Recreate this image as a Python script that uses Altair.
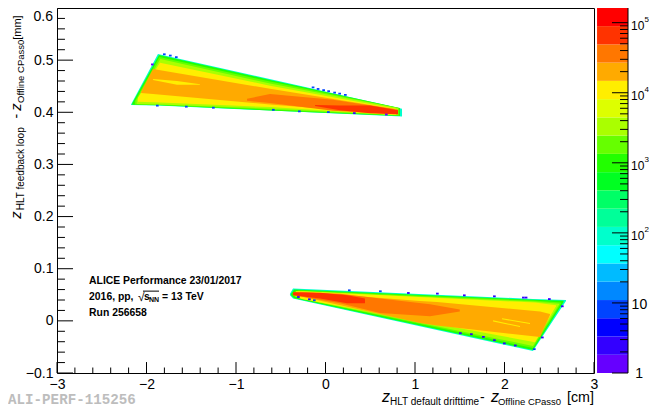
import altair as alt
import pandas as pd

FONT = "Liberation Sans"

# ---- colour contour edges and palette (bottom to top of the palette bar)
band_edges = [1, 1.82, 3.32, 6.05, 11.0, 20.1, 36.6, 66.7, 121.6, 221.6, 403.7, 735.6,
              1340, 2442, 4449, 8107, 14770, 26910, 49030, 89340, 162000]
palette = ["#6600ff", "#3300ff", "#0000ff", "#0044ff", "#0088ff", "#00bbff", "#00ffff",
           "#00ffcc", "#00ff99", "#00ff66", "#00ff22", "#22ff00", "#66ff00", "#aaff00",
           "#ddff00", "#ffee00", "#ffaa00", "#ff7700", "#ff3300", "#ff0000"]

# ---- axis ticks
x_major = [-3, -2, -1, 0, 1, 2, 3]
x_minor = [-2.8, -2.6, -2.4, -2.2, -1.8, -1.6, -1.4, -1.2, -0.8, -0.6, -0.4, -0.2,
           0.2, 0.4, 0.6, 0.8, 1.2, 1.4, 1.6, 1.8, 2.2, 2.4, 2.6, 2.8]
y_major = [-0.1, 0, 0.1, 0.2, 0.3, 0.4, 0.5, 0.6]
y_minor = [-0.08, -0.06, -0.04, -0.02, 0.02, 0.04, 0.06, 0.08, 0.12, 0.14, 0.16, 0.18,
           0.22, 0.24, 0.26, 0.28, 0.32, 0.34, 0.36, 0.38, 0.42, 0.44, 0.46, 0.48,
           0.52, 0.54, 0.56, 0.58]
cbar_major = [1, 10, 100, 1000, 10000, 100000]
cbar_minor = [2, 3, 4, 5, 6, 7, 8, 9, 20, 30, 40, 50, 60, 70, 80, 90,
              200, 300, 400, 500, 600, 700, 800, 900,
              2000, 3000, 4000, 5000, 6000, 7000, 8000, 9000,
              20000, 30000, 40000, 50000, 60000, 70000, 80000, 90000]

# ---- upper wedge: contour regions (z_default, upper and lower z_feedback edge, counts)
up_teal = ([-2.173, -1.872, 0.855], [0.415, 0.512, 0.407], [0.414, 0.413, 0.392], 90)
up_green = ([-2.160, -1.860, -0.620, 0.832], [0.417, 0.510, 0.462, 0.408], [0.4145, 0.4135, 0.4035, 0.393], 1000)
up_mid = ([-2.130, -1.855, -0.620, 0.820], [0.421, 0.506, 0.459, 0.408], [0.415, 0.414, 0.405, 0.394], 1800)
up_lime = ([-2.110, -1.845, -0.620, 0.810], [0.424, 0.502, 0.455, 0.408], [0.416, 0.415, 0.407, 0.395], 3000)
up_yellow = ([-2.095, -1.849, -0.620, 0.788], [0.428, 0.495, 0.451, 0.407], [0.420, 0.419, 0.410, 0.395], 11000)
up_orange = ([-2.061, -1.927, -0.620, 0.765], [0.439, 0.483, 0.445, 0.407], [0.437, 0.435, 0.415, 0.396], 20000)
up_stripe = ([-1.927, -1.659, -1.402], [0.464, 0.460, 0.454], [0.462, 0.453, 0.453], 11000)
up_dark = ([-0.877, -0.620, 0.084, 0.810], [0.426, 0.435, 0.424, 0.405], [0.422, 0.418, 0.403, 0.396], 35000)
up_red = ([-0.117, 0.162, 0.497, 0.810], [0.414, 0.413, 0.413, 0.404], [0.412, 0.404, 0.398, 0.396], 60000)

# ---- lower wedge
lo_teal = ([-0.397, -0.363, 2.318, 2.687], [0.052, 0.062, 0.042, 0.040], [0.049, 0.043, -0.058, 0.038], 90)
lo_green = ([-0.385, -0.350, 2.318, 2.660], [0.052, 0.060, 0.0405, 0.0385], [0.049, 0.0435, -0.056, 0.036], 1000)
lo_mid = ([-0.360, -0.300, 2.318, 2.630], [0.054, 0.058, 0.039, 0.035], [0.048, 0.0435, -0.052, 0.033], 1800)
lo_lime = ([-0.341, -0.285, 2.318, 2.609], [0.056, 0.0565, 0.037, 0.033], [0.047, 0.043, -0.048, 0.031], 3000)
lo_yellow = ([-0.330, -0.263, 2.341, 2.575], [0.057, 0.057, 0.035, 0.030], [0.048, 0.042, -0.041, 0.028], 11000)
lo_orange = ([-0.285, 1.056, 1.246, 2.397, 2.508], [0.056, 0.038, 0.036, 0.018, 0.013],
             [0.047, -0.004, -0.009, -0.031, 0.011], 20000)
lo_stripe1 = ([1.972, 2.285], [0.005, -0.004], [0.003, -0.006], 11000)
lo_stripe2 = ([1.872, 2.173], [0.001, -0.010], [-0.001, -0.012], 11000)
lo_dark = ([-0.352, 0.162, 0.609, 1.168, 1.500], [0.055, 0.052, 0.043, 0.032, 0.022],
           [0.049, 0.034, 0.015, 0.009, 0.018], 35000)
lo_red = ([-0.363, -0.061, 0.240, 0.441], [0.055, 0.054, 0.049, 0.043], [0.049, 0.043, 0.034, 0.034], 60000)

regions = [up_teal, up_green, up_mid, up_lime, up_yellow, up_orange, up_stripe, up_dark, up_red,
           lo_teal, lo_green, lo_mid, lo_lime, lo_yellow, lo_orange, lo_stripe1, lo_stripe2, lo_dark, lo_red]

# ---- isolated low-count bins along the wedge edges
cell_x = [-1.816, -1.749, -1.682, -1.950, -1.894, -1.570, -1.268, -0.598, -0.307, 0.017, 0.307, 0.665,
          -0.154, -0.098, -0.036, 0.020, 0.087, 0.143, 0.207,
          0.251, 0.598, 0.911, 1.235, 1.536, 1.872, 2.196, 2.226, 2.486, 2.631, 2.408,
          2.318, 2.106, 1.983, 1.872, 1.749, 1.615, 1.492, -0.318, -0.195, -0.140]
cell_y = [0.5095, 0.507, 0.504, 0.490, 0.411, 0.409, 0.407, 0.403, 0.400, 0.3986, 0.3966, 0.394,
          0.446, 0.443, 0.4407, 0.4387, 0.436, 0.434, 0.4316,
          0.0568, 0.055, 0.0517, 0.0505, 0.0472, 0.0453, 0.0429, 0.0429, 0.040, 0.0262, -0.0336,
          -0.056, -0.049, -0.045, -0.0388, -0.0325, -0.0273, -0.0254, 0.044, 0.0396, 0.0377]
cell_n = [8, 8, 8, 1.5, 8, 8, 8, 8, 8, 8, 3, 1.5,
          8, 8, 8, 8, 8, 8, 8,
          8, 8, 3, 3, 3, 3, 3, 3, 3, 3, 3,
          8, 3, 3, 3, 3, 3, 3, 3, 3, 8]

x_scale = alt.Scale(domain=[-3, 3], nice=False, zero=False)
y_scale = alt.Scale(domain=[-0.1, 0.6], nice=False, zero=False)
z_scale = alt.Scale(type="log", domain=[1, 162000], nice=False)
color_scale = alt.Scale(type="threshold", domain=band_edges[1:-1], range=palette)

x_axis = alt.Axis(values=x_major, ticks=False, domain=False, grid=False, labelFont=FONT, labelFontSize=14,
                  labelColor="black", labelPadding=4, labelOverlap=False, labelBound=False, labelFlush=False,
                  format="d")
y_axis = alt.Axis(values=y_major[:-1], ticks=False, domain=False, grid=False, labelFont=FONT, labelFontSize=14,
                  labelColor="black", labelPadding=4, labelOverlap=False, labelBound=False, labelFlush=False,
                  labelExpr="datum.value == 0 ? '0' : format(datum.value, '.1f')")


def X(field=None, datum=None):
    if datum is not None:
        return alt.X(datum=datum, scale=x_scale, axis=x_axis, title=None)
    return alt.X(field, type="quantitative", scale=x_scale, axis=x_axis, title=None)


def Y(field=None, datum=None, axis=None):
    if datum is not None:
        return alt.Y(datum=datum, scale=y_scale, axis=axis, title=None)
    return alt.Y(field, type="quantitative", scale=y_scale, axis=axis, title=None)


def C(field):
    return alt.Color(field, type="quantitative", scale=color_scale, legend=None)


def region(r):
    xs, top, bot, n = r
    df = pd.DataFrame({"x": xs, "top": top, "bot": bot, "n": [n] * len(xs)})
    return alt.Chart(df).mark_area(strokeWidth=0, opacity=1).encode(
        x=X("x"), y=alt.Y("top", type="quantitative", scale=y_scale, axis=None, title=None, stack=None),
        y2=alt.Y2("bot"), color=C("n"))


def text(s, x, y, size, **kw):
    opts = dict(align="left", baseline="alphabetic", font=FONT, color="black")
    opts.update(kw)
    return alt.Chart(pd.DataFrame({"t": [s]})).mark_text(fontSize=size, **opts).encode(
        x=X(datum=x), y=Y(datum=y), text="t:N")


def xticks(values, length):
    df = pd.DataFrame({"x": values, "y": [-0.1] * len(values), "y2": [-0.1 + length] * len(values)})
    return alt.Chart(df).mark_rule(color="black", strokeWidth=1).encode(
        x=X("x"), y=Y("y"), y2=alt.Y2("y2"))


def yticks(values, length):
    df = pd.DataFrame({"y": values, "x": [-3] * len(values), "x2": [-3 + length] * len(values)})
    return alt.Chart(df).mark_rule(color="black", strokeWidth=1).encode(
        y=Y("y"), x=X("x"), x2=alt.X2("x2"))


def cbar_ticks(values, start):
    df = pd.DataFrame({"z": values, "x": [start] * len(values), "x2": [3.38] * len(values)})
    return alt.Chart(df).mark_rule(color="black", strokeWidth=1).encode(
        y=alt.Y("z", type="quantitative", scale=z_scale, axis=None, title=None),
        x=X("x"), x2=alt.X2("x2"))


def cbar_text(s, z, size, x, dy):
    return alt.Chart(pd.DataFrame({"t": [s]})).mark_text(
        fontSize=size, font=FONT, align="left", baseline="middle", color="black", dy=dy).encode(
        x=X(datum=x), y=alt.Y(datum=z, scale=z_scale, axis=None, title=None), text="t:N")


# y axis carried by an invisible base layer
base = alt.Chart(pd.DataFrame({"x": x_major[:1], "y": y_major[:1]})).mark_point(opacity=0).encode(
    x=X("x"), y=Y("y", axis=y_axis))

layers = [base]
layers += [region(r) for r in regions]

cells = pd.DataFrame({"x": cell_x, "y": cell_y, "n": cell_n})
layers.append(alt.Chart(cells).transform_calculate(x2="datum.x + 0.03", y2="datum.y + 0.0035").mark_rect().encode(
    x=X("x"), x2=alt.X2("x2"), y=Y("y"), y2=alt.Y2("y2"), color=C("n")))

layers += [xticks(x_major, 0.021), xticks(x_minor, 0.0105), yticks(y_major, 0.179), yticks(y_minor, 0.089)]

# annotation
layers += [
    text("0.6", -3.045, 0.597, 14, align="right", baseline="top"),
    text("ALICE Performance 23/01/2017", -2.642, 0.070, 10.4, fontWeight="bold"),
    text("2016, pp,", -2.642, 0.040, 10.4, fontWeight="bold"),
    text("\u221a", -2.095, 0.039, 12, fontWeight="normal"),
    text("s", -2.028, 0.040, 10.4, fontWeight="bold"),
    text("NN", -1.972, 0.036, 7, fontWeight="bold"),
    text("= 13 TeV", -1.827, 0.040, 10.4, fontWeight="bold"),
    text("Run 256658", -2.642, 0.009, 10.4, fontWeight="bold"),
    text("ALI-PERF-115256", -3.547, -0.160, 14.2, font="Liberation Mono", fontWeight="bold", color="#bdbdbd"),
    # x title
    text("z", 0.631, -0.155, 16, fontStyle="italic"),
    text("HLT default drifttime", 0.721, -0.161, 10),
    text("-", 1.726, -0.155, 14),
    text("z", 1.849, -0.155, 16, fontStyle="italic"),
    text("Offline CPass0", 1.927, -0.161, 9.5),
    text("[cm]", 2.698, -0.155, 14.3),
    # y title
    text("z", -3.402, 0.196, 15, fontStyle="italic", angle=270),
    text("HLT feedback loop", -3.369, 0.212, 10, angle=270),
    text("-", -3.402, 0.388, 14, angle=270),
    text("z", -3.402, 0.403, 15, fontStyle="italic", angle=270),
    text("Offline CPass0", -3.369, 0.418, 9.5, angle=270),
    text("[mm]", -3.402, 0.539, 11, angle=270),
]
overline = pd.DataFrame({"x": [-2.039], "x2": [-1.860], "y": [0.057]})
layers.append(alt.Chart(overline).mark_rule(color="black", strokeWidth=1).encode(
    x=X("x"), x2=alt.X2("x2"), y=Y("y")))

# palette bar
bar = pd.DataFrame({"low": band_edges[:-1], "high": band_edges[1:], "x": [3.034] * 20, "x2": [3.38] * 20})
layers.append(alt.Chart(bar).mark_rect().encode(
    x=X("x"), x2=alt.X2("x2"),
    y=alt.Y("low", type="quantitative", scale=z_scale, axis=None, title=None), y2=alt.Y2("high"),
    color=C("low")))
layers += [cbar_ticks(cbar_major, 3.201), cbar_ticks(cbar_minor, 3.291)]
edge = pd.DataFrame({"x": [3.38], "z": [1], "z2": [162000]})
layers.append(alt.Chart(edge).mark_rule(color="black", strokeWidth=1).encode(
    x=X("x"), y=alt.Y("z", type="quantitative", scale=z_scale, axis=None, title=None), y2=alt.Y2("z2")))
layers += [
    cbar_text("1", 1, 14, 3.46, 1),
    cbar_text("10", 10, 14, 3.42, 2),
    cbar_text("10", 100, 12, 3.413, 3),
    cbar_text("2", 100, 8, 3.564, -3),
    cbar_text("10", 1000, 12, 3.413, 3),
    cbar_text("3", 1000, 8, 3.564, -3),
    cbar_text("10", 10000, 12, 3.413, 3),
    cbar_text("4", 10000, 8, 3.564, -3),
    cbar_text("10", 100000, 12, 3.413, 3),
    cbar_text("5", 100000, 8, 3.564, -3),
]

chart = alt.layer(*layers).resolve_scale(y="independent").properties(
    width=537, height=365,
    autosize=alt.AutoSizeParams(type="none"),
    padding={"left": 49, "top": 0, "right": 55, "bottom": 34},
    background="white",
).configure_view(stroke="black", strokeWidth=1)

chart.save("out.html", embed_options={"renderer": "svg", "actions": False})
